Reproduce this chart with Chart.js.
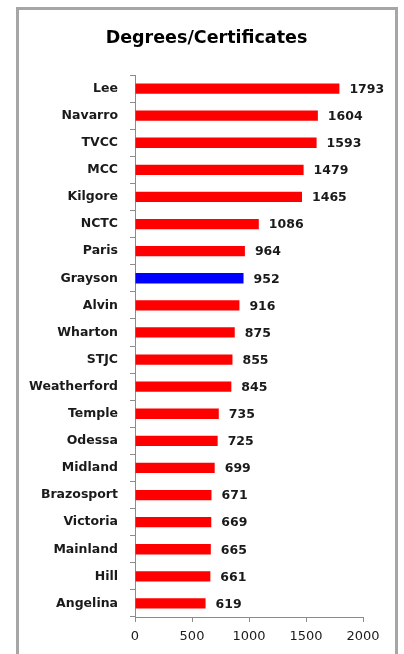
<!DOCTYPE html>
<html>
<head>
<meta charset="utf-8">
<script src="https://cdn.jsdelivr.net/npm/chart.js@4"></script>
<style>
  html, body { margin: 0; padding: 0; background: #fff; }
  #wrap { position: relative; width: 404px; height: 654px; overflow: hidden; }
  #frame { position: absolute; left: 16px; top: 7px; width: 376px; height: 700px; border: 3px solid #a6a6a6; }
  canvas { position: absolute; left: 0; top: 0; }
</style>
</head>
<body>
<div id="wrap">
  <div id="frame"></div>
  <canvas id="bar-chart" width="404" height="654"></canvas>
</div>
<script>
const ctx = document.getElementById('bar-chart');

// colleges, top to bottom
const colleges = ['Lee', 'Navarro', 'TVCC', 'MCC', 'Kilgore', 'NCTC', 'Paris', 'Grayson', 'Alvin', 'Wharton',
  'STJC', 'Weatherford', 'Temple', 'Odessa', 'Midland', 'Brazosport', 'Victoria', 'Mainland', 'Hill', 'Angelina'];
const degrees = [1793, 1604, 1593, 1479, 1465, 1086, 964, 952, 916, 875,
  855, 845, 735, 725, 699, 671, 669, 665, 661, 619];
const highlight = 'Grayson';
const xTicks = [0, 500, 1000, 1500, 2000];

const barColors = colleges.map(c => c == highlight ? '#0000ff' : '#ff0000');
const axisGray = '#8c8c8c';
const textColor = '#1a1a1a';

// value labels at the end of each bar
const valueLabels = {
  id: 'valueLabels',
  afterDatasetsDraw(chart) {
    const c = chart.ctx;
    const meta = chart.getDatasetMeta(0);
    c.save();
    c.font = 'bold 12.5px "DejaVu Sans"';
    c.fillStyle = textColor;
    c.textAlign = 'left';
    c.textBaseline = 'middle';
    meta.data.forEach((bar, i) => {
      c.fillText(String(degrees[i]), bar.x + 10, bar.y + 1);
    });
    c.restore();
  }
};

const myBarChart = new Chart(ctx, {
  type: 'bar',
  data: {
    labels: colleges,
    datasets: [{
      data: degrees,
      backgroundColor: barColors,
      borderWidth: 0,
      barPercentage: 0.38,
      categoryPercentage: 1
    }]
  },
  options: {
    indexAxis: 'y',
    responsive: false,
    animation: false,
    layout: { padding: { left: 9, right: 0, top: 0, bottom: 0 } },
    plugins: {
      legend: { display: false },
      tooltip: { enabled: false },
      title: {
        display: true,
        text: 'Degrees/Certificates',
        color: '#000',
        font: { family: 'DejaVu Sans', size: 17.5, weight: 'bold', lineHeight: 1.2 },
        padding: { top: 28, bottom: 26 }
      }
    },
    scales: {
      x: {
        min: 0,
        max: 2000,
        afterBuildTicks: (scale) => { scale.ticks = xTicks.map(v => ({ value: v })); },
        afterFit: (scale) => { scale.height = 37; scale.paddingRight = 41; },
        grid: { drawOnChartArea: false, tickLength: 5, color: axisGray },
        border: { color: axisGray, width: 1 },
        ticks: {
          color: textColor,
          padding: 7,
          font: { family: 'DejaVu Sans', size: 13 },
          callback: (v) => String(v)
        }
      },
      y: {
        afterFit: (scale) => { scale.width = 126; },
        grid: { drawOnChartArea: false, offset: true, tickLength: 5, color: axisGray },
        border: { color: axisGray, width: 1 },
        ticks: { color: textColor, padding: 12, font: { family: 'DejaVu Sans', size: 12.5, weight: 'bold' } }
      }
    }
  },
  plugins: [valueLabels]
});
</script>
</body>
</html>
